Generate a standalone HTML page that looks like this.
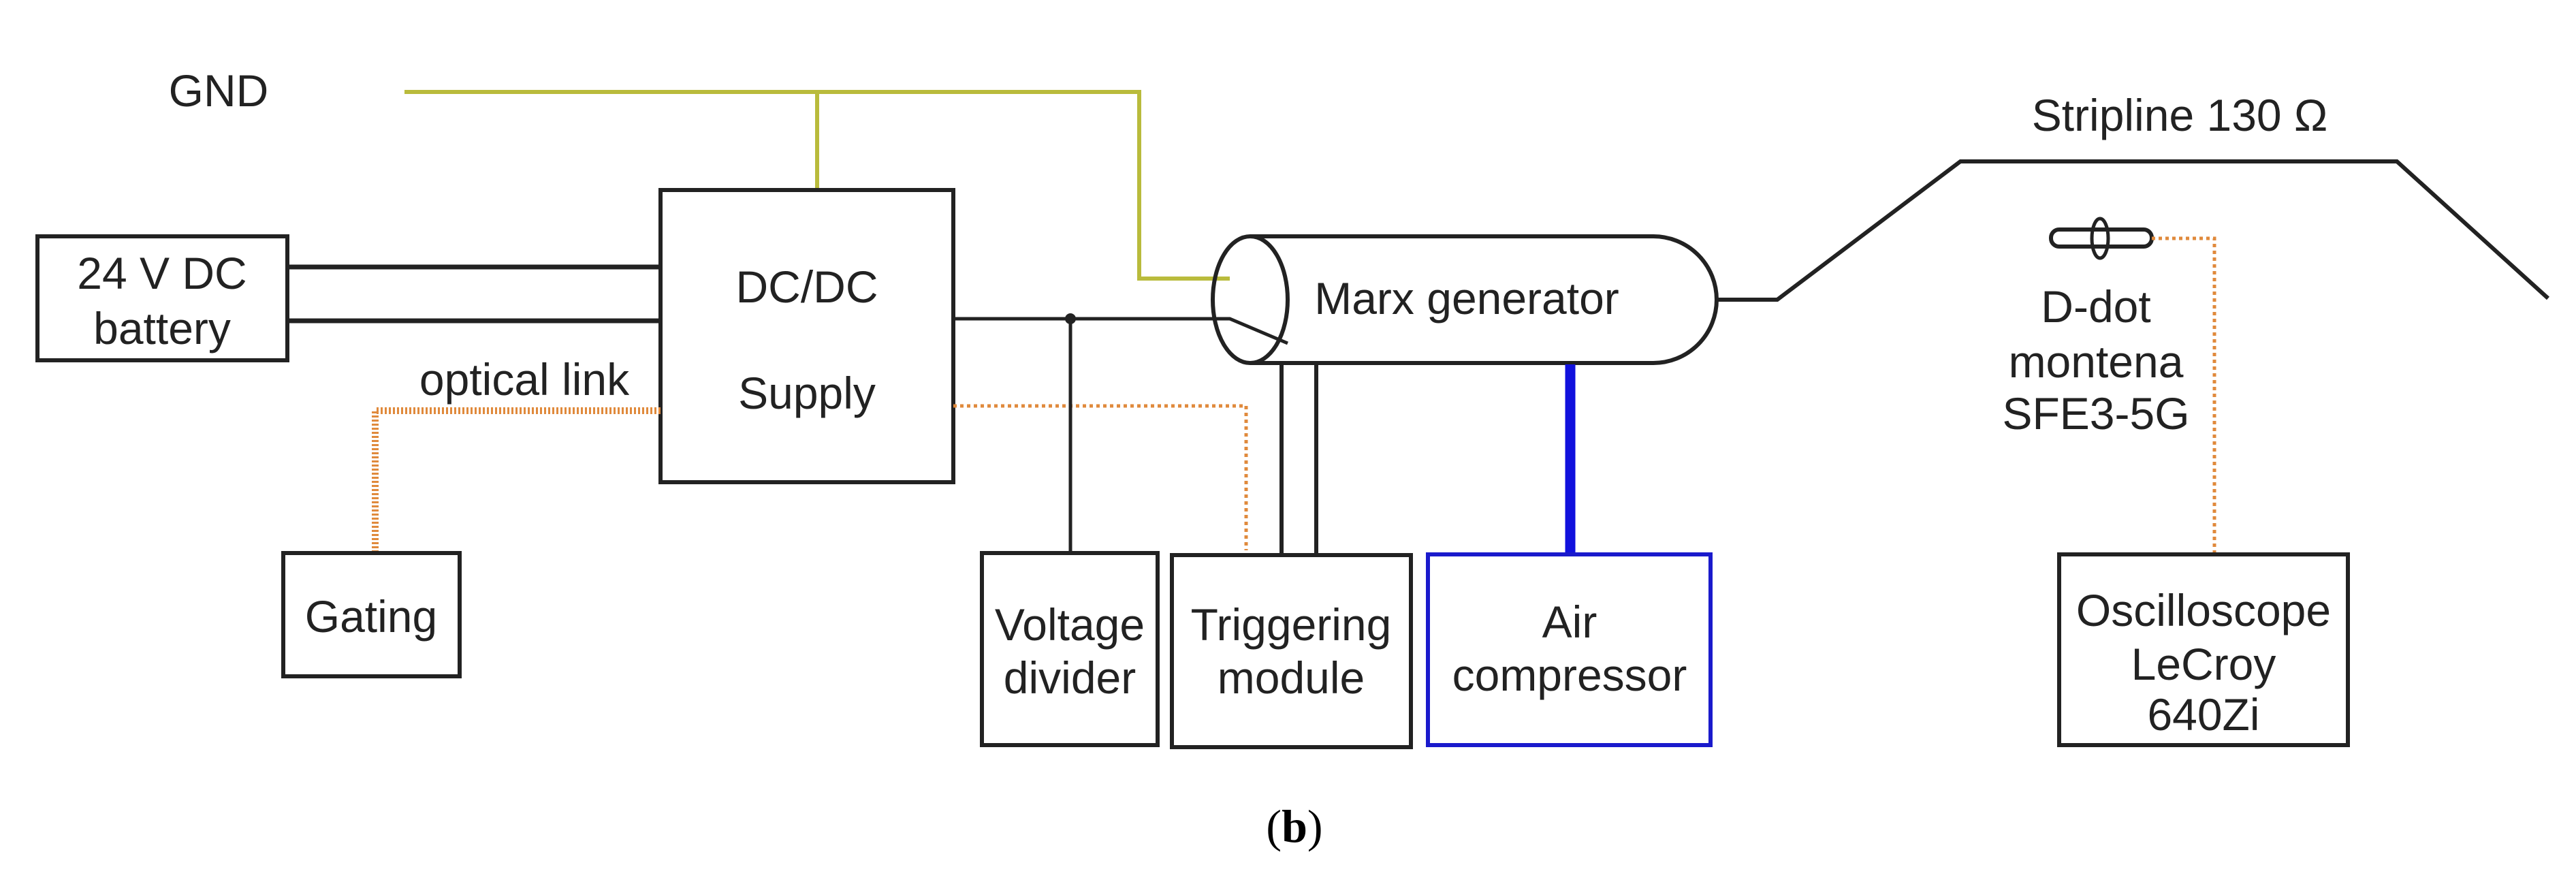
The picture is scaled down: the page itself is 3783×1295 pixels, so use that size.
<!DOCTYPE html>
<html><head><meta charset="utf-8"><style>
html,body{margin:0;padding:0;background:#fff;}
svg{display:block;}
text{font-family:"Liberation Sans",sans-serif;font-size:66px;fill:#222;}
</style></head><body>
<svg width="3783" height="1295" viewBox="0 0 3783 1295" xmlns="http://www.w3.org/2000/svg">
<g fill="none" stroke-linecap="butt">
<!-- GND yellow -->
<polyline points="594,135 1673,135 1673,409 1806,409" stroke="#b9bb3c" stroke-width="6"/>
<line x1="1200" y1="135" x2="1200" y2="279" stroke="#b9bb3c" stroke-width="6"/>
<!-- battery -->
<rect x="55" y="347" width="367" height="182" stroke="#222" stroke-width="6"/>
<line x1="422" y1="392" x2="970" y2="392" stroke="#222" stroke-width="7"/>
<line x1="422" y1="471" x2="970" y2="471" stroke="#222" stroke-width="7"/>
<!-- DC box -->
<rect x="970" y="279" width="430" height="429" stroke="#222" stroke-width="6"/>
<!-- optical links -->
<polyline points="970,603 551,603 551,814" stroke="#e08a3c" stroke-width="10" stroke-dasharray="3,3"/>
<polyline points="1400,596 1830,596 1830,808" stroke="#e08a3c" stroke-width="5" stroke-dasharray="5,5"/>
<!-- Gating -->
<rect x="416" y="812" width="259" height="181" stroke="#222" stroke-width="6"/>
<!-- wire to marx -->
<polyline points="1400,468 1806,468 1891,504" stroke="#222" stroke-width="5"/>
<line x1="1572" y1="468" x2="1572" y2="812" stroke="#222" stroke-width="5"/>
<!-- Voltage divider -->
<rect x="1442" y="812" width="258" height="282" stroke="#222" stroke-width="6"/>
<!-- Trigger -->
<rect x="1721" y="815" width="351" height="282" stroke="#222" stroke-width="6"/>
<line x1="1882" y1="535" x2="1882" y2="815" stroke="#222" stroke-width="6"/>
<line x1="1933" y1="535" x2="1933" y2="815" stroke="#222" stroke-width="6"/>
<!-- Marx cylinder -->
<path d="M1836,347 L2428,347 A93,93 0 0 1 2428,533 L1836,533" stroke="#222" stroke-width="6"/>
<ellipse cx="1836" cy="440" rx="55" ry="93" stroke="#222" stroke-width="6"/>
<!-- Air -->
<line x1="2306" y1="535" x2="2306" y2="814" stroke="#1111dd" stroke-width="15"/>
<rect x="2097" y="814" width="415" height="280" stroke="#1a1acc" stroke-width="6"/>
<!-- stripline -->
<polyline points="2521,440 2610,440 2879,237 3520,237 3742,438" stroke="#222" stroke-width="6"/>
<!-- D-dot -->
<rect x="3012" y="337" width="148" height="25" rx="12" stroke="#222" stroke-width="6"/>
<ellipse cx="3084" cy="350" rx="12" ry="29" stroke="#222" stroke-width="5"/>
<polyline points="3160,350 3252,350 3252,814" stroke="#e08a3c" stroke-width="5" stroke-dasharray="5,5"/>
<!-- Oscilloscope -->
<rect x="3024" y="814" width="424" height="280" stroke="#222" stroke-width="6"/>
</g>
<circle cx="1572" cy="468" r="8" fill="#222"/>
<text x="321" y="156" text-anchor="middle">GND</text>
<text x="238" y="424" text-anchor="middle">24 V DC</text>
<text x="238" y="505" text-anchor="middle">battery</text>
<text x="1185" y="444" text-anchor="middle">DC/DC</text>
<text x="1185" y="600" text-anchor="middle">Supply</text>
<text x="770" y="580" text-anchor="middle" font-size="62">optical link</text>
<text x="545" y="928" text-anchor="middle">Gating</text>
<text x="1571" y="940" text-anchor="middle">Voltage</text>
<text x="1571" y="1018" text-anchor="middle">divider</text>
<text x="1896" y="940" text-anchor="middle">Triggering</text>
<text x="1896" y="1018" text-anchor="middle">module</text>
<text x="2154" y="461" text-anchor="middle">Marx generator</text>
<text x="2305" y="936" text-anchor="middle">Air</text>
<text x="2305" y="1014" text-anchor="middle">compressor</text>
<text x="3201" y="192" text-anchor="middle">Stripline 130 Ω</text>
<text x="3078" y="473" text-anchor="middle">D-dot</text>
<text x="3078" y="554" text-anchor="middle">montena</text>
<text x="3078" y="630" text-anchor="middle">SFE3-5G</text>
<text x="3236" y="919" text-anchor="middle">Oscilloscope</text>
<text x="3236" y="998" text-anchor="middle">LeCroy</text>
<text x="3236" y="1072" text-anchor="middle">640Zi</text>
<text x="1901" y="1236" text-anchor="middle" style="font-family:'Liberation Serif',serif;font-size:68px;fill:#000">(<tspan font-weight="bold">b</tspan>)</text>
</svg>
</body></html>
